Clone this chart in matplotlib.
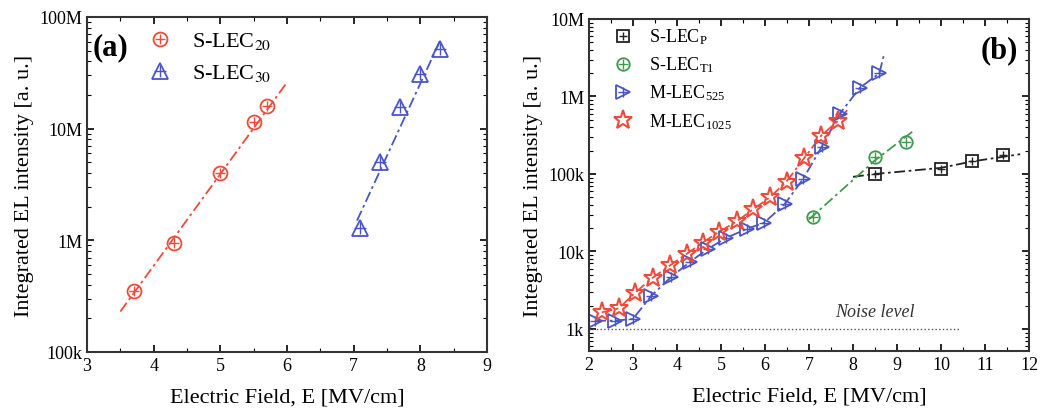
import numpy as np
import matplotlib.pyplot as plt
from matplotlib.ticker import FixedLocator, FuncFormatter, MultipleLocator, LogLocator, NullFormatter

plt.rcParams['font.family'] = ['Liberation Serif', 'DejaVu Serif']
plt.rcParams['mathtext.fontset'] = 'stix'

# panel (a)
a20_x = [3.7, 4.3, 5.0, 5.5, 5.7]
a20_y = [3.5e5, 9.5e5, 4.0e6, 1.15e7, 1.6e7]
a20_fit_x = [3.5, 6.0]
a20_fit_y = [2.3e5, 2.6e7]
a30_x = [7.1, 7.4, 7.7, 8.0, 8.3]
a30_y = [1.3e6, 5.0e6, 1.55e7, 3.1e7, 5.2e7]
a30_fit_x = [7.05, 8.3]
a30_fit_y = [1.5e6, 6.2e7]

# panel (b)
p_x = [8.5, 10.0, 10.7, 11.4]
p_y = [1.0e5, 1.15e5, 1.45e5, 1.75e5]
p_fit_x = [8.0, 8.5, 10.0, 10.7, 11.8]
p_fit_y = [9.2e4, 1.0e5, 1.2e5, 1.45e5, 1.8e5]
t1_x = [7.1, 8.5, 9.2]
t1_y = [2.8e4, 1.65e5, 2.6e5]
t1_fit_x = [7.0, 8.5, 9.4]
t1_fit_y = [2.6e4, 1.5e5, 3.7e5]
m525_x = [2.14, 2.59, 3.0, 3.42, 3.87, 4.29, 4.7, 5.12, 5.58, 5.98, 6.45, 6.87, 7.29, 7.7, 8.16, 8.6]
m525_y = [1.28e3, 1.28e3, 1.35e3, 2.7e3, 4.7e3, 7.3e3, 1.08e4, 1.5e4, 1.95e4, 2.35e4, 4.1e4, 8.7e4, 2.25e5, 6.0e5, 1.3e6, 2.0e6]
m1025_x = [2.29, 2.68, 3.05, 3.45, 3.84, 4.22, 4.58, 4.96, 5.36, 5.73, 6.11, 6.49, 6.89, 7.27, 7.67]
m1025_y = [1.64e3, 1.85e3, 2.95e3, 4.6e3, 6.6e3, 9.3e3, 1.3e4, 1.8e4, 2.45e4, 3.5e4, 5.0e4, 8.0e4, 1.6e5, 3.1e5, 4.9e5]
noise_x = [2.0, 10.4]
noise_y = [1e3, 1e3]

red = '#f04a3a'
blue = '#4a55c4'
green = '#3f9a4e'
black = '#222222'
dashdot = (0, (6, 2, 1.5, 2))


def fmt(v, pos):
    if v >= 1e6:
        return '%dM' % round(v / 1e6)
    if v >= 1e3:
        return '%dk' % round(v / 1e3)
    return '%d' % v


def style(ax):
    ax.tick_params(which='both', direction='in', top=True, right=True, labelsize=13)
    ax.tick_params(which='major', length=5, width=1.2)
    ax.tick_params(which='minor', length=3, width=0.8)
    ax.yaxis.set_major_formatter(FuncFormatter(fmt))
    ax.yaxis.set_minor_locator(LogLocator(base=10, subs=np.arange(2, 10)))
    ax.yaxis.set_minor_formatter(NullFormatter())
    ax.xaxis.set_minor_locator(MultipleLocator(0.5))
    for s in ax.spines.values():
        s.set_linewidth(1.5)
        s.set_color('#333333')
    ax.set_xlabel('Electric Field, E [MV/cm]', fontsize=16, labelpad=10)
    ax.set_ylabel('Integrated EL intensity [a. u.]', fontsize=16)


def marks(ax, x, y, m, c, ms, cross=True):
    h = ax.plot(x, y, ls='none', marker=m, ms=ms, mfc='none', mec=c, mew=1.3)[0]
    if not cross:
        return h
    hp = ax.plot(x, y, ls='none', marker='+', ms=ms * 0.75, mec=c, mew=1.0)[0]
    return (h, hp)


fig = plt.figure(figsize=(10.52, 4.14), dpi=100)
ax1 = fig.add_axes([87 / 1052, 1 - 353 / 414, 400 / 1052, 335 / 414])
ax2 = fig.add_axes([589 / 1052, 1 - 352 / 414, 440 / 1052, 332 / 414])

# (a)
ax1.plot(a20_fit_x, a20_fit_y, ls=dashdot, color=red, lw=1.3)
ax1.plot(a30_fit_x, a30_fit_y, ls=dashdot, color=blue, lw=1.3)
h1 = marks(ax1, a20_x, a20_y, 'o', red, 10)
h2 = marks(ax1, a30_x, a30_y, '^', blue, 11)
ax1.legend([h1, h2], ['S-LEC$_{20}$', 'S-LEC$_{30}$'], loc='upper left',
           bbox_to_anchor=(0.078, 1.02), frameon=False, fontsize=16,
           handletextpad=0.4, labelspacing=0.5)
ax1.text(0.015, 0.955, '(a)', transform=ax1.transAxes, fontsize=22, fontweight='bold', va='top')
ax1.set_yscale('log')
ax1.set_xlim(3, 9)
ax1.set_ylim(1e5, 1e8)
style(ax1)

# (b)
ax2.plot(noise_x, noise_y, ls=':', color='#555555', lw=1.0)
ax2.text(8.5, 1.7e3, 'Noise level', fontsize=13, fontstyle='italic', ha='center', va='center', color='#333333')
ax2.plot(p_fit_x, p_fit_y, ls=dashdot, color=black, lw=1.3)
ax2.plot(t1_fit_x, t1_fit_y, ls=dashdot, color=green, lw=1.3)
ax2.plot(m525_x + [8.7], m525_y + [3.4e6], ls=dashdot, color=blue, lw=1.3)
ax2.plot(m1025_x + [7.9], m1025_y + [7e5], ls=dashdot, color=red, lw=1.3)
hp = marks(ax2, p_x, p_y, 's', black, 8)
ht = marks(ax2, t1_x, t1_y, 'o', green, 9)
hm = marks(ax2, m525_x, m525_y, '>', blue, 10)
hs = ax2.plot(m1025_x, m1025_y, ls='none', marker='*', ms=14, mfc='none', mec=red, mew=1.5)[0]
ax2.legend([hp, ht, hm, hs], ['S-LEC$_{\\mathregular{P}}$', 'S-LEC$_{\\mathregular{T1}}$',
                              'M-LEC$_{\\mathregular{525}}$', 'M-LEC$_{\\mathregular{1025}}$'],
           loc='upper left', bbox_to_anchor=(0.0, 1.025), frameon=False, fontsize=13,
           handletextpad=0.4, labelspacing=0.48)
ax2.text(0.975, 0.95, '(b)', transform=ax2.transAxes, fontsize=22, fontweight='bold', va='top', ha='right')
ax2.set_yscale('log')
ax2.set_xlim(2, 12)
ax2.set_ylim(520, 1e7)
ax2.yaxis.set_major_locator(FixedLocator([1e3, 1e4, 1e5, 1e6, 1e7]))
style(ax2)
ax2.xaxis.set_major_locator(MultipleLocator(1))

fig.savefig('out.png', dpi=100)
